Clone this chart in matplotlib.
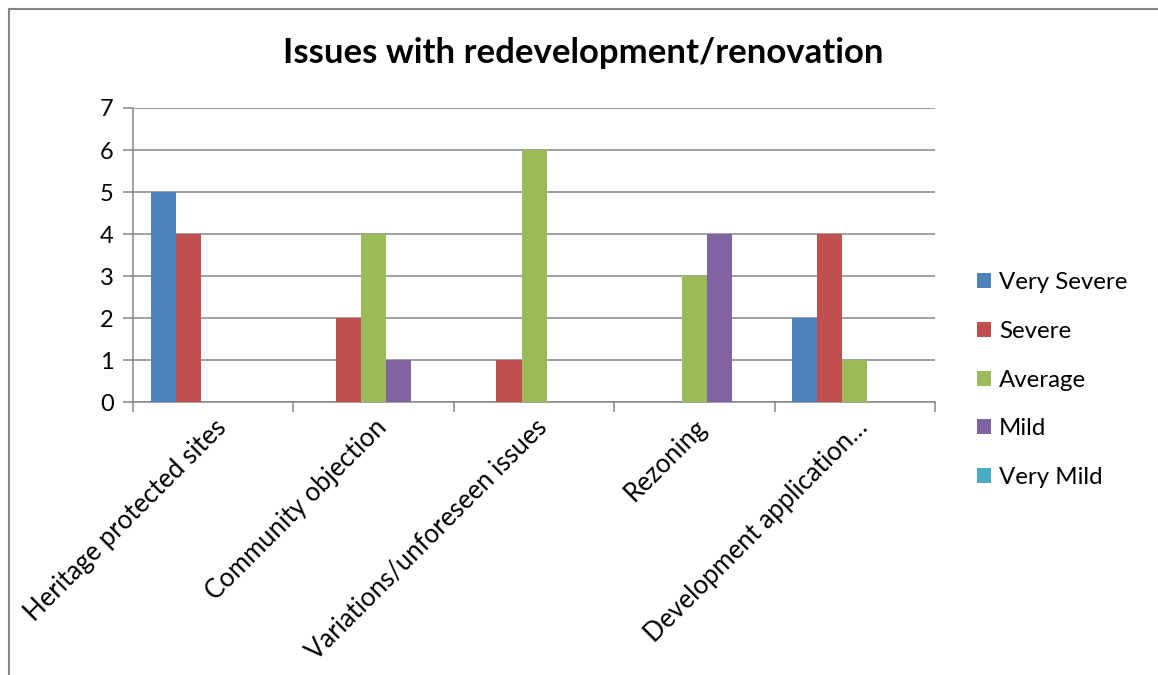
import matplotlib
matplotlib.use("Agg")
import matplotlib.pyplot as plt
from matplotlib.lines import Line2D
import numpy as np

# Issues with redevelopment/renovation - counts by severity
categories = ["Heritage protected sites", "Community objection",
              "Variations/unforeseen issues", "Rezoning",
              "Development application…"]
series_names = ["Very Severe", "Severe", "Average", "Mild", "Very Mild"]
very_severe = [5, 0, 0, 0, 2]
severe = [4, 2, 1, 0, 4]
average = [0, 4, 6, 3, 1]
mild = [0, 1, 0, 4, 0]
very_mild = [0, 0, 0, 0, 0]
colors = ["#4F81BD", "#C0504D", "#9BBB59", "#8064A2", "#4BACC6"]

plt.rcParams["font.family"] = ["Lato", "DejaVu Sans"]

fig = plt.figure(figsize=(11.58, 6.75), dpi=100)
ax = fig.add_axes([0.1149, 0.4044, 0.8074 - 0.1149, 0.84 - 0.4044])

grey = "#868686"
x = np.arange(len(categories))
bar_w = 0.156
values = [very_severe, severe, average, mild, very_mild]
for i, (name, vals) in enumerate(zip(series_names, values)):
    ax.bar(x + (i - 2) * bar_w, vals, width=bar_w, color=colors[i],
           label=name, zorder=3)

ax.set_xlim(-0.5, len(categories) - 0.5)
ax.set_ylim(0, 7)
ax.set_yticks(range(0, 8))
ax.yaxis.grid(True, color=grey, linewidth=1.1, zorder=0)

# boundary ticks between categories, labels at the centres
ax.set_xticks(np.arange(-0.5, len(categories)), minor=False)
ax.set_xticklabels([])
ax.set_xticks(x, minor=True)
ax.set_xticklabels(categories, minor=True, rotation=45, ha="right",
                   rotation_mode="anchor", fontsize=18.5)
ax.tick_params(axis="x", which="major", length=7, width=1.1, color=grey)
ax.tick_params(axis="x", which="minor", length=0, pad=9)
ax.tick_params(axis="y", length=7, width=1.1, color=grey, labelsize=17, pad=7)

for side in ["top", "right"]:
    ax.spines[side].set_visible(False)
for side in ["left", "bottom"]:
    ax.spines[side].set_color(grey)
    ax.spines[side].set_linewidth(1.1)

fig.text(0.504, 0.922, "Issues with redevelopment/renovation",
         ha="center", va="center", fontsize=25, fontweight="bold")

fig.legend(loc="center left", bbox_to_anchor=(0.8437, 0.437),
           frameon=False, fontsize=17.3, handlelength=0.58, handleheight=0.58,
           handletextpad=0.33, labelspacing=1.15, borderpad=0, borderaxespad=0)

# chart frame
fig.add_artist(Line2D([0.0075, 0.0075], [0, 0.987], color=grey, linewidth=1.5,
                      transform=fig.transFigure))
fig.add_artist(Line2D([0.0075, 1], [0.987, 0.987], color=grey, linewidth=1.5,
                      transform=fig.transFigure))

fig.savefig("out.png", dpi=100)
